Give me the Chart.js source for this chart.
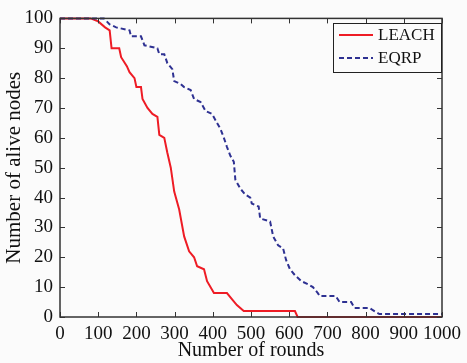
<!DOCTYPE html>
<html>
<head>
<meta charset="utf-8">
<script src="https://cdn.jsdelivr.net/npm/chart.js@4/dist/chart.umd.min.js"></script>
<style>
  html, body { margin: 0; padding: 0; background: #fbfbfb; }
  #wrap { width: 467px; height: 363px; }
</style>
</head>
<body>
<div id="wrap"><canvas id="chart" width="467" height="363"></canvas></div>
<script>
// rounds / alive nodes
var leachRounds = [0, 80, 100, 118, 130, 135, 155, 160, 175, 182, 195, 200, 212, 216, 229, 242, 255, 260, 273, 281, 290, 299, 312, 325, 338, 351, 359, 377, 385, 403, 437, 450, 463, 481, 615, 622, 1000];
var leachAlive  = [100, 100, 99, 97, 96, 90, 90, 87, 84, 82, 80, 77, 77, 73, 70, 68, 67, 61, 60, 55, 50, 42, 36, 27, 22, 20, 17, 16, 12, 8, 8, 6, 4, 2, 2, 0, 0];

var eqrpRounds = [0, 115, 130, 147, 182, 186, 212, 221, 255, 260, 273, 281, 294, 299, 316, 325, 342, 351, 368, 381, 398, 411, 420, 429, 437, 446, 455, 459, 472, 485, 498, 502, 520, 524, 550, 558, 571, 584, 592, 602, 615, 632, 649, 662, 675, 680, 722, 732, 762, 771, 810, 823, 836, 1000];
var eqrpAlive  = [100, 100, 98, 97, 96, 94, 94, 91, 90, 88, 88, 85, 83, 79, 78, 77, 76, 73, 72, 69, 68, 65, 63, 60, 57, 54, 52, 46, 43, 41, 40, 38, 37, 33, 32, 27, 24, 23, 19, 16, 14, 12, 11, 10, 8, 7, 7, 5, 5, 3, 3, 2, 1, 1];

var seriesNames = ["LEACH", "EQRP"];
var xTicks = [0, 100, 200, 300, 400, 500, 600, 700, 800, 900, 1000];
var yTicks = [0, 10, 20, 30, 40, 50, 60, 70, 80, 90, 100];

var redCol = "#ee1c25";
var blueCol = "#2e3192";
var frameCol = "#333333";
var serif = "'Liberation Serif', 'Times New Roman', serif";

function pts(xs, ys) {
    var out = [];
    for (var i = 0; i < xs.length; i++) {
        out.push({x: xs[i], y: ys[i]});
    }
    return out;
}

// frame + inward ticks + legend box, matlab style
var boxPlugin = {
    id: "box",
    afterDraw: function(chart) {
        var ctx = chart.ctx;
        var a = chart.chartArea;
        var xs = chart.scales.x, ys = chart.scales.y;
        var tl = 5;
        ctx.save();
        ctx.strokeStyle = frameCol;
        ctx.lineWidth = 1;
        ctx.beginPath();
        xTicks.forEach(function(v) {
            var px = Math.round(xs.getPixelForValue(v)) + 0.5;
            ctx.moveTo(px, a.bottom); ctx.lineTo(px, a.bottom - tl);
            ctx.moveTo(px, a.top); ctx.lineTo(px, a.top + tl);
        });
        yTicks.forEach(function(v) {
            var py = Math.round(ys.getPixelForValue(v)) + 0.5;
            ctx.moveTo(a.left, py); ctx.lineTo(a.left + tl, py);
            ctx.moveTo(a.right, py); ctx.lineTo(a.right - tl, py);
        });
        ctx.stroke();
        ctx.lineWidth = 1.5;
        ctx.strokeRect(a.left, a.top, a.right - a.left, a.bottom - a.top);

        // legend
        var lx = 333, ly = 23, lw = 108, lh = 49;
        ctx.fillStyle = "#fbfbfb";
        ctx.fillRect(lx, ly, lw, lh);
        ctx.lineWidth = 1;
        ctx.strokeStyle = "#222";
        ctx.strokeRect(lx + 0.5, ly + 0.5, lw, lh);
        ctx.lineWidth = 2;
        ctx.strokeStyle = redCol;
        ctx.beginPath(); ctx.moveTo(339, 35); ctx.lineTo(373, 35); ctx.stroke();
        ctx.strokeStyle = blueCol;
        ctx.setLineDash([5, 3]);
        ctx.beginPath(); ctx.moveTo(339, 58); ctx.lineTo(373, 58); ctx.stroke();
        ctx.setLineDash([]);
        ctx.fillStyle = "#111";
        ctx.font = "17px " + serif;
        ctx.textBaseline = "middle";
        ctx.fillText(seriesNames[0], 378, 36);
        ctx.fillText(seriesNames[1], 378, 59);
        ctx.restore();
    }
};

var ctx = document.getElementById("chart").getContext("2d");
var chart = new Chart(ctx, {
    type: "line",
    data: {
        datasets: [
            {
                label: seriesNames[1],
                data: pts(eqrpRounds, eqrpAlive),
                borderColor: blueCol,
                borderWidth: 2,
                borderDash: [5, 3],
                pointRadius: 0,
                fill: false,
                clip: 4,
                order: 0
            },
            {
                label: seriesNames[0],
                data: pts(leachRounds, leachAlive),
                borderColor: redCol,
                borderWidth: 2,
                pointRadius: 0,
                fill: false,
                clip: 4,
                order: 1
            }
        ]
    },
    options: {
        responsive: false,
        animation: false,
        layout: {padding: {top: 17, right: 22, left: 0, bottom: 0}},
        plugins: {legend: {display: false}, tooltip: {enabled: false}},
        scales: {
            x: {
                type: "linear",
                min: 0, max: 1000,
                afterBuildTicks: function(s) { s.ticks = xTicks.map(function(v) { return {value: v}; }); },
                afterFit: function(s) { s.height = 363 - 317; },
                grid: {display: false, drawTicks: false},
                border: {display: false},
                ticks: {color: "#111", font: {family: serif, size: 19}, padding: 6, maxRotation: 0, autoSkip: false,
                        callback: function(v) { return String(v); }},
                title: {display: true, text: "Number of rounds", color: "#111", font: {family: serif, size: 20, lineHeight: 1.2}, padding: 0}
            },
            y: {
                min: 0, max: 100,
                afterBuildTicks: function(s) { s.ticks = yTicks.map(function(v) { return {value: v}; }); },
                afterFit: function(s) { s.width = 60; },
                grid: {display: false, drawTicks: false},
                border: {display: false},
                ticks: {color: "#111", font: {family: serif, size: 19}, padding: 7, autoSkip: false,
                        callback: function(v) { return String(v); }},
                title: {display: true, text: "Number of alive nodes", color: "#111", font: {family: serif, size: 21, lineHeight: 1.2}, padding: {top: 2, bottom: 0}}
            }
        }
    },
    plugins: [boxPlugin]
});
</script>
</body>
</html>
